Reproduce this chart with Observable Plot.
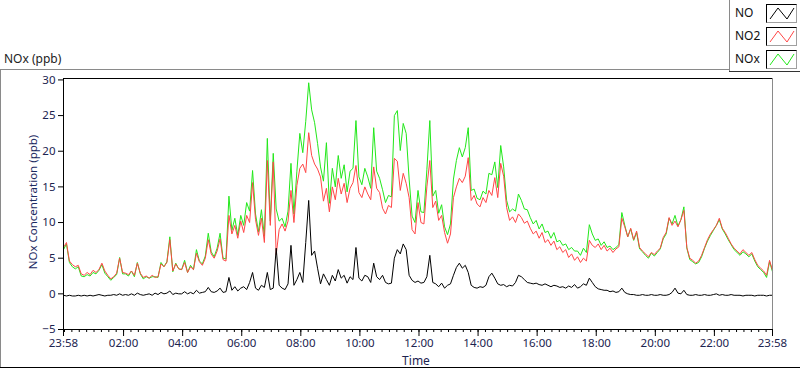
<!DOCTYPE html>
<html><head><meta charset="utf-8">
<script src="https://cdn.jsdelivr.net/npm/d3@7"></script>
<script src="https://cdn.jsdelivr.net/npm/@observablehq/plot@0.6"></script>
<style>
html,body{margin:0;padding:0;background:#fff;}
#wrap{position:relative;width:800px;height:369px;overflow:hidden;font-family:"Noto Sans",sans-serif;font-size:11px;}
#chart{position:absolute;left:0;top:0;}
.abs{position:absolute;}
.lg{position:absolute;left:735px;font-size:12px;color:#111;line-height:14px;}
.box{position:absolute;left:766px;width:29px;height:17px;background:#fff;border-style:solid;border-width:1px;border-color:#000 #a0a0a0 #a0a0a0 #000;}
</style></head><body>
<div id="wrap">
  <div id="chart"></div>
  <div class="abs" style="left:0;top:69px;width:729px;height:1px;background:#8a8a8a"></div>
  <div class="abs" style="left:0;top:69px;width:1px;height:299px;background:#8a8a8a"></div>
  <div class="abs" style="left:0;top:367px;width:800px;height:1px;background:#000"></div>
  <div class="abs" style="left:729px;top:0;width:1px;height:72px;background:#8a8a8a"></div>
  <div class="abs" style="left:729px;top:71px;width:71px;height:1px;background:#333"></div>
  <div class="abs" style="left:4px;top:50px;font-size:12px;color:#222">NOx (ppb)</div>
  <div class="abs" style="left:32px;top:202px;transform:translate(-50%,-50%) rotate(-90deg);white-space:nowrap;font-size:11.5px;color:#1c2a62">NOx Concentration (ppb)</div>
  <div class="abs" style="left:416px;top:360px;transform:translate(-50%,-50%);font-size:12px;line-height:13px;color:#1c2450">Time</div>
  <div id="legend"></div>
</div>
<script>
// ---- data (6-minute samples starting at 23:58) ----
const seriesNames = ["NO", "NO2", "NOx"];
const seriesColors = ["#000000", "#ff4646", "#22e81a"];
const yTicks = [-5, 0, 5, 10, 15, 20, 25, 30];
const xTickLabels = ["23:58","02:00","04:00","06:00","08:00","10:00","12:00","14:00","16:00","18:00","20:00","22:00","23:58"];

const no2 = [
6.5,7.2,4.6,4.1,3.8,4.0,2.8,2.6,3.0,2.7,3.3,3.0,3.4,4.3,3.2,2.6,2.1,2.4,2.9,5.0,
3.0,2.9,2.7,3.2,2.6,4.3,2.9,2.3,2.5,2.2,2.6,2.3,2.4,4.2,3.8,4.4,7.6,3.2,4.2,3.5,
3.4,4.4,3.0,3.8,3.4,5.7,4.5,4.0,5.0,7.6,5.6,5.0,6.0,7.7,4.8,4.6,11.0,8.4,9.6,7.8,
10.2,8.6,11.0,10.0,15.6,10.4,8.2,10.6,7.2,18.7,9.6,18.5,5.5,9.0,9.8,8.8,10.2,14.5,10.0,15.2,
17.6,18.2,17.0,22.6,19.4,18.2,17.5,16.4,13.0,14.8,11.5,15.0,13.2,16.2,14.0,15.5,12.8,14.8,15.6,18.0,
14.2,13.5,15.0,14.0,13.2,17.8,14.8,14.2,12.0,11.2,12.4,12.1,19.0,18.6,14.5,16.9,15.5,13.5,9.0,8.4,
12.8,10.0,9.8,15.0,18.7,12.1,13.0,10.3,11.0,8.6,7.1,8.4,13.5,15.0,16.2,15.6,16.5,19.1,13.1,13.8,
12.6,12.2,13.5,12.8,14.5,13.8,16.3,13.5,18.3,16.5,12.1,10.3,10.8,10.0,11.2,10.7,9.9,10.2,9.2,8.4,
8.8,7.8,8.6,7.2,7.6,6.8,7.4,6.2,6.6,5.8,6.2,5.1,5.6,4.7,5.2,4.4,5.0,4.6,7.5,6.8,
6.5,7.0,6.2,6.8,6.0,6.4,5.8,6.3,6.6,10.6,9.4,8.0,9.2,7.6,8.8,6.5,6.0,5.6,5.2,5.8,
5.5,6.0,6.4,7.9,8.6,10.7,9.6,10.2,9.4,10.4,11.7,6.5,5.0,4.7,4.3,4.6,5.4,6.5,7.6,8.4,
9.0,9.6,10.6,9.2,8.6,7.8,7.0,6.4,6.0,5.6,6.2,5.8,5.4,5.8,4.8,4.0,3.6,3.2,2.6,4.7,3.3
];
const no = [
-0.2,-0.3,-0.2,-0.3,-0.3,-0.2,-0.3,-0.2,-0.3,-0.2,-0.3,-0.2,-0.1,-0.2,-0.3,-0.2,-0.2,-0.1,-0.2,0.0,
-0.2,-0.1,-0.2,0.0,-0.2,0.1,-0.1,-0.2,-0.1,0.0,-0.2,0.1,-0.1,0.2,0.0,0.1,0.4,-0.1,0.1,0.0,
0.0,0.3,0.0,0.2,0.0,0.5,0.1,0.2,0.3,0.9,0.3,0.2,0.4,0.8,0.2,0.3,2.3,0.5,1.0,0.4,
0.8,1.0,0.6,1.6,3.0,0.8,0.5,1.2,0.9,3.0,0.6,0.8,6.4,1.2,0.8,0.6,1.4,6.8,1.2,2.0,
3.0,1.6,7.2,13.1,5.4,6.0,3.6,1.4,2.8,2.0,1.2,2.6,1.8,3.4,2.2,2.6,1.5,2.4,2.0,6.5,
2.2,1.8,2.6,2.4,1.6,4.3,2.4,2.0,2.6,1.6,1.4,1.5,5.0,6.2,5.6,7.0,6.2,2.6,1.9,1.6,
1.8,1.5,1.6,2.4,5.4,1.6,1.4,1.0,1.5,0.8,1.2,1.4,2.6,3.7,4.3,3.6,4.0,3.0,1.2,0.9,
0.8,1.0,0.9,1.2,2.4,2.9,2.2,1.4,1.2,1.3,1.0,1.2,1.1,1.6,2.6,2.4,2.0,1.6,1.5,1.4,
1.5,1.3,1.2,1.4,1.2,1.0,1.2,1.1,0.9,1.0,0.8,1.1,0.9,1.3,0.8,1.0,1.4,1.2,2.2,1.6,
1.0,0.7,0.6,0.5,0.5,0.3,0.4,0.2,0.3,0.8,0.2,0.0,-0.1,-0.1,-0.2,-0.2,-0.1,-0.2,-0.2,-0.1,
-0.2,-0.2,-0.1,-0.2,-0.2,-0.1,0.2,0.8,0.1,0.0,0.5,-0.1,-0.2,-0.2,-0.1,-0.2,-0.2,-0.1,-0.2,-0.2,
-0.1,0.0,-0.2,-0.1,-0.2,-0.2,-0.1,-0.2,-0.2,-0.2,-0.3,-0.2,-0.2,-0.2,-0.3,-0.2,-0.2,-0.2,-0.3,-0.2,-0.2
];
const nox = [
6.2,7.0,4.4,3.8,3.5,3.8,2.5,2.4,2.7,2.5,3.0,2.8,3.3,4.1,2.9,2.4,1.9,2.3,2.7,5.1,
2.8,2.8,2.5,3.2,2.4,4.4,2.8,2.1,2.4,2.2,2.4,2.4,2.3,4.4,3.8,4.5,8.0,3.1,4.3,3.5,
3.4,4.7,3.0,4.0,3.4,6.2,4.6,4.2,5.3,8.5,5.9,5.2,6.4,8.5,5.0,4.9,13.7,8.9,10.6,8.2,
11.0,9.6,12.8,11.6,17.3,11.2,8.7,11.8,8.1,21.8,10.2,19.7,11.9,10.2,10.6,9.4,11.6,18.3,11.2,17.2,
22.5,19.8,24.2,29.6,25.8,24.0,21.1,17.8,15.8,21.2,12.7,17.6,15.0,19.4,16.2,18.1,14.3,17.2,17.6,24.3,
16.4,15.3,17.6,16.4,14.8,23.3,17.2,16.2,14.6,12.8,13.8,13.6,25.0,25.7,20.1,23.9,22.5,16.1,10.9,10.0,
14.5,11.5,11.4,17.4,24.3,13.7,14.5,11.3,12.5,9.4,8.3,9.8,16.1,18.7,20.5,19.2,20.5,23.3,14.5,14.7,
13.4,13.2,14.4,14.0,16.9,16.7,18.5,14.9,20.8,17.8,13.1,11.5,11.9,11.6,14.0,13.1,11.9,11.8,10.7,9.8,
10.3,9.1,9.8,8.6,8.8,7.8,8.6,7.3,7.5,6.8,7.0,6.2,6.5,6.0,6.0,5.4,6.4,5.8,9.7,8.4,
7.5,7.7,6.8,7.3,6.5,6.7,6.2,6.5,6.9,11.4,9.6,8.0,9.1,7.5,8.6,6.3,5.9,5.4,5.0,5.7,
5.3,5.8,6.3,7.7,8.4,10.6,9.8,11.0,9.5,10.4,12.2,6.4,4.8,4.5,4.2,4.4,5.2,6.4,7.4,8.2,
8.9,9.6,10.4,9.1,8.4,7.6,6.9,6.2,5.8,5.4,5.9,5.6,5.2,5.6,4.6,3.8,3.4,3.0,2.3,4.5,3.1
];

const t0 = new Date(Date.UTC(2020, 0, 1, 23, 58));
const t1 = new Date(Date.UTC(2020, 0, 2, 23, 58));
const step = 6 * 60 * 1000;
const rows = no2.map((v, i) => ({time: new Date(+t0 + i * step), no2: v, no: no[i], nox: nox[i]}));

const majorTicks = xTickLabels.map((s, i) => {
  if (i === 0) return t0;
  if (i === xTickLabels.length - 1) return t1;
  const [h, m] = s.split(":").map(Number);
  return new Date(Date.UTC(2020, 0, 2, h, m));
});
const minorTicks = d3.utcMinute.every(15).range(t0, t1);
const navy = "#1c2450";

const chart = Plot.plot({
  width: 800, height: 369,
  marginLeft: 63, marginRight: 28, marginTop: 78, marginBottom: 40,
  x: {type: "utc", domain: [t0, t1]},
  y: {domain: [-5, 30.2]},
  style: {fontFamily: "Noto Sans", fontSize: "11px", background: "transparent", overflow: "visible"},
  marks: [
    Plot.axisY({ticks: yTicks, tickSize: 5, tickPadding: 3, label: null, fill: navy, stroke: "#000", fontSize: 11.5}),
    Plot.axisX({ticks: minorTicks, tickSize: 3, tickFormat: () => "", label: null, stroke: "#000"}),
    Plot.axisX({ticks: majorTicks, tickSize: 7, tickPadding: 2, tickFormat: (d, i) => xTickLabels[i], label: null, fill: navy, stroke: "#000", fontSize: 11.5}),
    Plot.lineY(rows, {x: "time", y: "nox", stroke: seriesColors[2], strokeWidth: 1}),
    Plot.lineY(rows, {x: "time", y: "no2", stroke: seriesColors[1], strokeWidth: 1}),
    Plot.lineY(rows, {x: "time", y: "no", stroke: seriesColors[0], strokeWidth: 1}),
    Plot.frame({stroke: "#000"}),
    Plot.ruleX([t1], {stroke: "#8a8a8a"})
  ]
});
document.getElementById("chart").appendChild(chart);

// legend
const lg = document.getElementById("legend");
seriesNames.forEach((name, i) => {
  const top = [4, 27, 50][i];
  const t = document.createElement("div");
  t.className = "lg"; t.style.top = (top + 2) + "px"; t.textContent = name;
  lg.appendChild(t);
  const b = document.createElement("div");
  b.className = "box"; b.style.top = top + "px";
  b.innerHTML = `<svg width="29" height="17"><polyline points="3,14 11,3 20,14 27,3" fill="none" stroke="${seriesColors[i]}" stroke-width="1"/></svg>`;
  lg.appendChild(b);
});
</script>
</body></html>
